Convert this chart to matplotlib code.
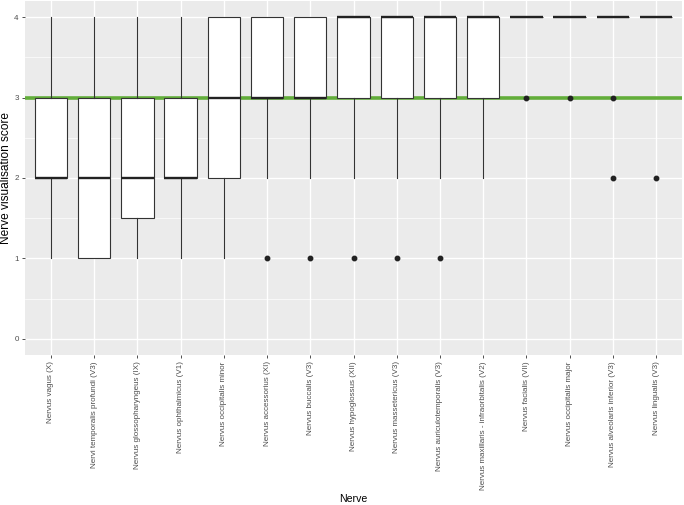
import matplotlib
matplotlib.use('Agg')
import matplotlib.pyplot as plt
import numpy as np

plt.rcParams['font.family'] = ['Liberation Sans', 'DejaVu Sans']

# box statistics (score 0-4)
nerves = [
    'Nervus vagus (X)',
    'Nervi temporalis profundi (V3)',
    'Nervus glossopharyngeus (IX)',
    'Nervus ophthalmicus (V1)',
    'Nervus occipitalis minor',
    'Nervus accessorius (XI)',
    'Nervus buccalis (V3)',
    'Nervus hypoglossus (XII)',
    'Nervus massetericus (V3)',
    'Nervus auriculotemporalis (V3)',
    'Nervus maxillaris - infraorbitalis (V2)',
    'Nervus facialis (VII)',
    'Nervus occipitalis major',
    'Nervus alveolaris inferior (V3)',
    'Nervus lingualis (V3)',
]
whisker_lo = [1, 1, 1, 1, 1, 2, 2, 2, 2, 2, 2, 4, 4, 4, 4]
q1 = [2, 1, 1.5, 2, 2, 3, 3, 3, 3, 3, 3, 4, 4, 4, 4]
median = [2, 2, 2, 2, 3, 3, 3, 4, 4, 4, 4, 4, 4, 4, 4]
q3 = [3, 3, 3, 3, 4, 4, 4, 4, 4, 4, 4, 4, 4, 4, 4]
whisker_hi = [4, 4, 4, 4, 4, 4, 4, 4, 4, 4, 4, 4, 4, 4, 4]
outliers = [[], [], [], [], [], [1], [1], [1], [1], [1], [], [3], [3], [3, 2], [2]]
reference_score = 3

stats = []
for i, name in enumerate(nerves):
    stats.append(dict(label=name, whislo=whisker_lo[i], q1=q1[i], med=median[i],
                      q3=q3[i], whishi=whisker_hi[i], fliers=outliers[i]))

fig = plt.figure(figsize=(6.84, 5.05), dpi=100)
ax = fig.add_axes([25 / 684, 1 - 355 / 505, 657 / 684, 354 / 505])
ax.set_facecolor('#EBEBEB')
for s in ax.spines.values():
    s.set_visible(False)

pos = np.arange(1, len(nerves) + 1)
ax.set_xlim(0.4, len(nerves) + 0.6)
ax.set_ylim(-0.2, 4.2)

# ggplot style grid
ax.set_yticks([0, 1, 2, 3, 4])
ax.set_yticks([0.5, 1.5, 2.5, 3.5], minor=True)
ax.set_xticks(pos)
ax.grid(which='major', color='white', linewidth=1.0, zorder=0)
ax.grid(which='minor', axis='y', color='white', linewidth=0.5, zorder=0)
ax.set_axisbelow(True)

ax.axhline(reference_score, color='#62AD3A', linewidth=2.6, zorder=1)

line_col = '#333333'
ax.bxp(stats, positions=pos, widths=0.75, patch_artist=True, showcaps=False,
       boxprops=dict(facecolor='white', edgecolor=line_col, linewidth=0.8),
       whiskerprops=dict(color=line_col, linewidth=0.8),
       medianprops=dict(color='#222222', linewidth=1.7),
       flierprops=dict(marker='o', markersize=3.2, markerfacecolor='#222222',
                       markeredgecolor='#222222', linestyle='none'),
       zorder=2)

ax.set_xticks(pos)
ax.set_xticklabels(nerves, rotation=90, ha='center', va='top')
ax.set_yticks([0, 1, 2, 3, 4])
ax.set_yticklabels(['0', '1', '2', '3', '4'])
ax.tick_params(which='major', length=2.5, width=0.6, color=line_col,
               labelcolor='#4D4D4D', labelsize=5.8, pad=2)
ax.tick_params(which='minor', length=0)

ax.set_xlabel('Nerve', fontsize=7.6, va='center')
ax.set_ylabel('Nerve visualisation score', fontsize=8.6, va='center')
ax.xaxis.set_label_coords(0.5, -(499 - 355) / 354)
ax.yaxis.set_label_coords(-(25 - 6) / 657, 0.5)

plt.savefig('out.png', dpi=100)
plt.close(fig)
